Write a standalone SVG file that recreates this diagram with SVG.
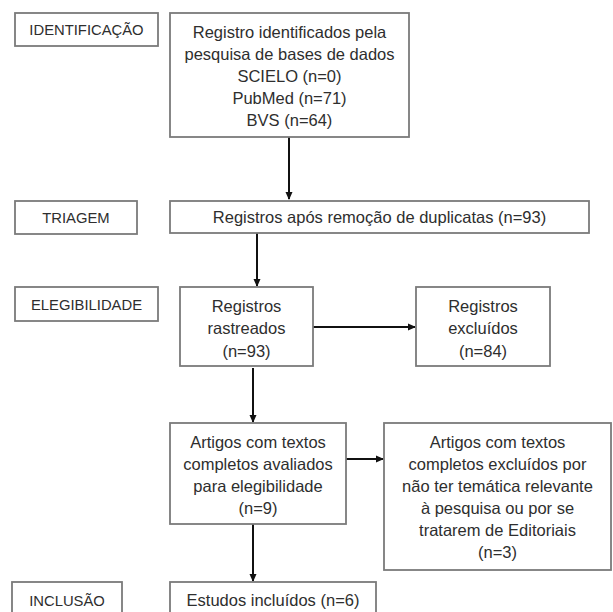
<svg xmlns="http://www.w3.org/2000/svg" width="613" height="612" viewBox="0 0 613 612">
<defs>
<style>
.box{fill:#fff;stroke:#7a7a7a;stroke-width:1.8}
.t{font-family:"Liberation Sans",Arial,sans-serif;font-size:16.5px;fill:#2e2e2e;text-anchor:middle}
.l{font-family:"Liberation Sans",Arial,sans-serif;font-size:14.8px;fill:#2e2e2e;text-anchor:middle}
.c{stroke:#111;stroke-width:2;fill:none;marker-end:url(#ah)}
</style>
<marker id="ah" markerWidth="8" markerHeight="8" refX="7" refY="4" orient="auto" markerUnits="userSpaceOnUse">
<path d="M0,0.5 L8,4 L0,7.5 Z" fill="#111"/>
</marker>
</defs>
<rect width="613" height="612" fill="#fff"/>
<g id="connectors">
<line class="c" x1="289" y1="137" x2="289" y2="199"/>
<line class="c" x1="257" y1="233" x2="257" y2="286"/>
<line class="c" x1="313" y1="327" x2="415" y2="327"/>
<line class="c" x1="253" y1="368" x2="253" y2="422"/>
<line class="c" x1="346" y1="459" x2="383" y2="459"/>
<line class="c" x1="253" y1="524" x2="253" y2="581"/>
</g>
<g id="label-identificacao"><rect class="box" x="15" y="13" width="143" height="33"/><text class="l" x="86.5" y="35">IDENTIFICAÇÃO</text></g>
<g id="node-registro"><rect class="box" x="170" y="13" width="239" height="124"/>
<text class="t" x="289.5" y="38">Registro identificados pela</text>
<text class="t" x="289.5" y="60">pesquisa de bases de dados</text>
<text class="t" x="289.5" y="82">SCIELO (n=0)</text>
<text class="t" x="289.5" y="104">PubMed (n=71)</text>
<text class="t" x="289.5" y="126">BVS (n=64)</text></g>
<g id="label-triagem"><rect class="box" x="15" y="201" width="122" height="33"/><text class="l" x="76" y="223">TRIAGEM</text></g>
<g id="node-triagem"><rect class="box" x="170" y="201" width="419" height="32"/><text class="t" x="379.5" y="223">Registros após remoção de duplicatas (n=93)</text></g>
<g id="label-elegibilidade"><rect class="box" x="15" y="287" width="143" height="34"/><text class="l" x="86.5" y="310">ELEGIBILIDADE</text></g>
<g id="node-rastreados"><rect class="box" x="180" y="287" width="133" height="79"/>
<text class="t" x="246.5" y="312">Registros</text>
<text class="t" x="246.5" y="334">rastreados</text>
<text class="t" x="246.5" y="357">(n=93)</text></g>
<g id="node-excluidos"><rect class="box" x="416" y="287" width="134" height="79"/>
<text class="t" x="483" y="312">Registros</text>
<text class="t" x="483" y="334">excluídos</text>
<text class="t" x="483" y="357">(n=84)</text></g>
<g id="node-artigos"><rect class="box" x="170" y="423" width="176" height="101"/>
<text class="t" x="258" y="448">Artigos com textos</text>
<text class="t" x="258" y="470">completos avaliados</text>
<text class="t" x="258" y="492">para elegibilidade</text>
<text class="t" x="258" y="514">(n=9)</text></g>
<g id="node-artigos-excluidos"><rect class="box" x="384" y="423" width="227" height="147"/>
<text class="t" x="497.5" y="448">Artigos com textos</text>
<text class="t" x="497.5" y="470">completos excluídos por</text>
<text class="t" x="497.5" y="492">não ter temática relevante</text>
<text class="t" x="497.5" y="514">à pesquisa ou por se</text>
<text class="t" x="497.5" y="536">tratarem de Editoriais</text>
<text class="t" x="497.5" y="558">(n=3)</text></g>
<g id="label-inclusao"><rect class="box" x="12" y="582" width="110" height="40"/><text class="l" x="67" y="606">INCLUSÃO</text></g>
<g id="node-estudos"><rect class="box" x="170" y="582" width="206" height="40"/><text class="t" x="273" y="606">Estudos incluídos (n=6)</text></g>
</svg>
